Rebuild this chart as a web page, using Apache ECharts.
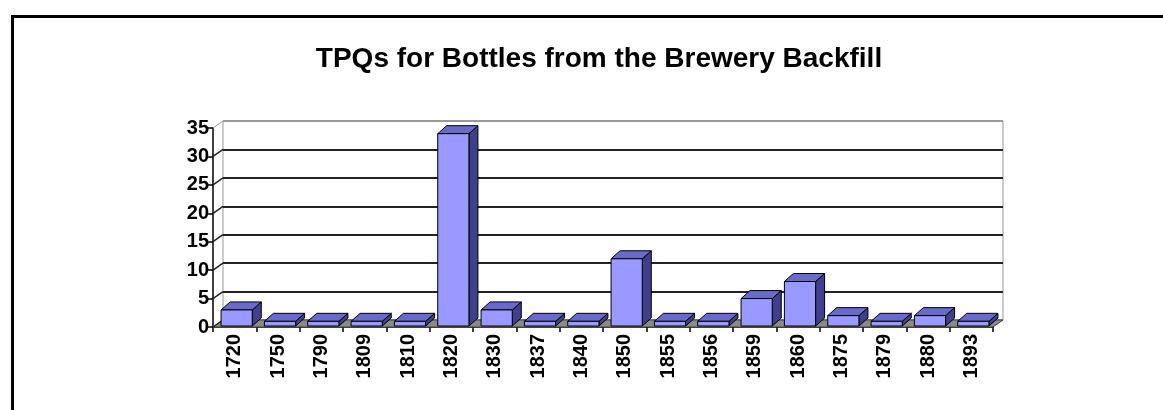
<!DOCTYPE html>
<html>
<head>
<meta charset="utf-8">
<script src="https://cdn.jsdelivr.net/npm/echarts@6/dist/echarts.min.js"></script>
<style>
html,body{margin:0;padding:0;background:#fff;}
#chart{width:1163px;height:410px;}
</style>
</head>
<body>
<div id="chart"></div>
<script>
const titleText = 'TPQs for Bottles from the Brewery Backfill';
const categories = ['1720','1750','1790','1809','1810','1820','1830','1837','1840','1850','1855','1856','1859','1860','1875','1879','1880','1893'];
const counts = [3,1,1,1,1,34,3,1,1,12,1,1,5,8,2,1,2,1];
const yTicks = [0,5,10,15,20,25,30,35];

const DX = 10, DY = 7;      // wall depth
const BDX = 9, BDY = 8;     // bar depth
const FONT = 'Liberation Sans, Arial, sans-serif';

const chart = echarts.init(document.getElementById('chart'));

function barItem(params, api) {
  const i = api.value(0), v = api.value(1);
  const base = api.coord([i, 0]);
  const top = api.coord([i, v]);
  const bw = api.size([1, 0])[0] * 0.72;
  const l = base[0] - bw / 2 + 2, r = l + bw;
  const b = base[1] - 1, t = top[1];
  const stroke = {stroke: '#000', lineWidth: 1};
  return {
    type: 'group',
    children: [
      {type: 'polygon', shape: {points: [[r, t], [r + BDX, t - BDY], [r + BDX, b - BDY], [r, b]]},
        style: Object.assign({fill: '#3f3f8c'}, stroke)},
      {type: 'polygon', shape: {points: [[l, t], [l + BDX, t - BDY], [r + BDX, t - BDY], [r, t]]},
        style: Object.assign({fill: '#6a6ac8'}, stroke)},
      {type: 'rect', shape: {x: l, y: t, width: bw, height: b - t},
        style: Object.assign({fill: '#9999ff'}, stroke)}
    ]
  };
}

function wallItem(params, api) {
  const v = api.value(0);
  const y = api.coord([0, v])[1];
  const x0 = params.coordSys.x;
  const col = (v === 35) ? '#999' : '#222';
  return {type: 'line', shape: {x1: x0, y1: y, x2: x0 + DX, y2: y - DY},
    style: {stroke: col, lineWidth: v === 35 ? 1 : 1.5}};
}

function floorItem(params, api) {
  const cs = params.coordSys;
  const yb = cs.y + cs.height;
  return {type: 'polygon', shape: {points: [[cs.x, yb], [cs.x + cs.width, yb], [cs.x + cs.width + DX, yb - DY], [cs.x + DX, yb - DY]]},
    style: {fill: '#8a8a8a', stroke: '#444', lineWidth: 1}};
}

chart.setOption({
  backgroundColor: '#fff',
  animation: false,
  title: {
    text: titleText,
    left: 594, top: 40, textAlign: 'center',
    textStyle: {fontFamily: FONT, fontSize: 28, fontWeight: 'bold', color: '#000'}
  },
  graphic: [{
    type: 'rect', left: 10, top: 14, silent: true,
    shape: {x: 0, y: 0, width: 1300, height: 600},
    style: {fill: 'none', stroke: '#000', lineWidth: 3}
  }],
  grid: [
    {left: 213 + DX, top: 128 - DY, width: 780, height: 199, show: true, borderColor: '#999', borderWidth: 1, backgroundColor: 'transparent'},
    {left: 213, top: 128, width: 780, height: 199}
  ],
  xAxis: [
    {gridIndex: 0, type: 'category', data: categories, show: false},
    {gridIndex: 1, type: 'category', data: categories, boundaryGap: true,
      axisLine: {lineStyle: {color: '#000', width: 1.5}},
      axisTick: {show: true, length: 5, lineStyle: {color: '#000', width: 1.5}},
      axisLabel: {rotate: 90, margin: 7, fontFamily: FONT, fontSize: 20, fontWeight: 'bold', color: '#000', interval: 0}
    }
  ],
  yAxis: [
    {gridIndex: 0, type: 'value', min: 0, max: 35, interval: 5,
      axisLine: {show: false}, axisTick: {show: false}, axisLabel: {show: false},
      splitLine: {show: true, lineStyle: {color: ['#999','#222','#222','#222','#222','#222','#222','#999'], width: 2}}
    },
    {gridIndex: 1, type: 'value', min: 0, max: 35, interval: 5,
      axisLine: {show: true, lineStyle: {color: '#000', width: 1.5}},
      axisTick: {show: true, length: 5, lineStyle: {color: '#000', width: 1.5}},
      axisLabel: {margin: 4, fontFamily: FONT, fontSize: 20, fontWeight: 'bold', color: '#000'},
      splitLine: {show: false}
    }
  ],
  series: [
    {type: 'custom', xAxisIndex: 1, yAxisIndex: 1, renderItem: floorItem, data: [[0]], z: 1, silent: true},
    {type: 'custom', xAxisIndex: 1, yAxisIndex: 1, renderItem: wallItem, data: yTicks.map(v => [v]), encode: {y: 0}, z: 1, silent: true},
    {type: 'custom', name: 'TPQ', xAxisIndex: 1, yAxisIndex: 1, renderItem: barItem,
      data: categories.map((c, i) => [i, counts[i]]), encode: {x: 0, y: 1}, z: 3}
  ]
});
</script>
</body>
</html>
